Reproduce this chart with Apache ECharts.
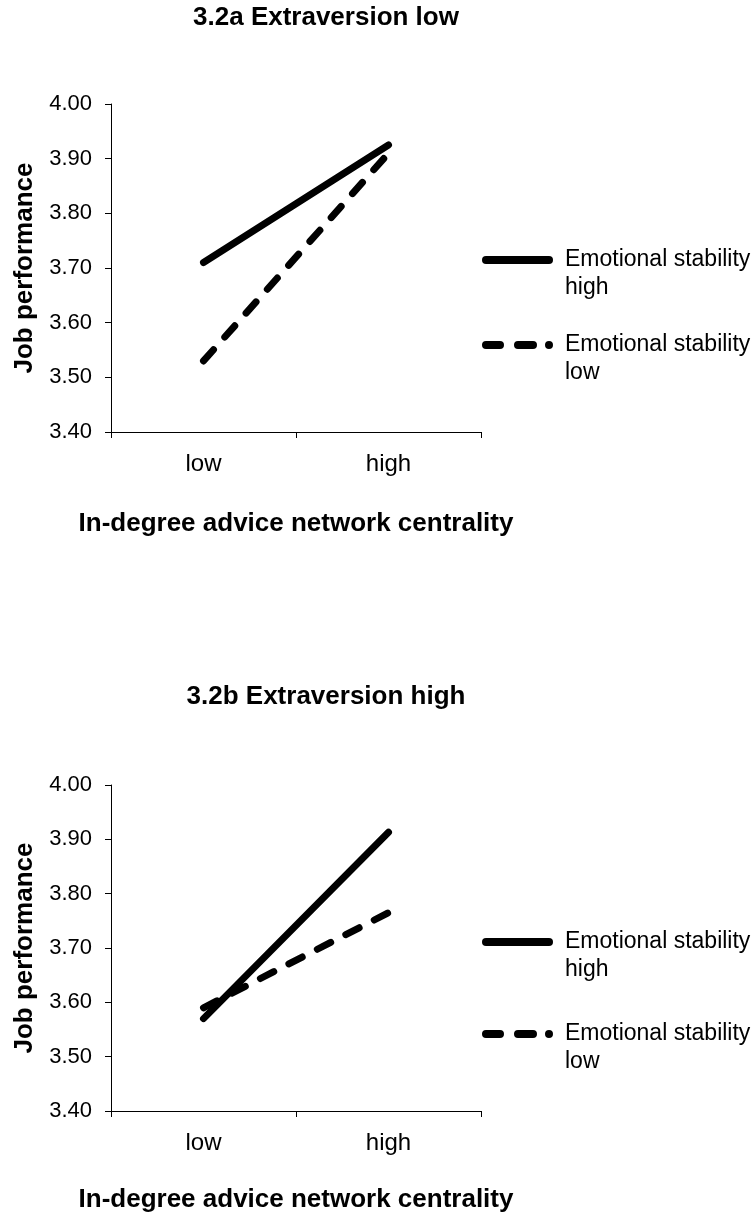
<!DOCTYPE html>
<html>
<head>
<meta charset="utf-8">
<script src="https://cdn.jsdelivr.net/npm/echarts@6/dist/echarts.min.js"></script>
<style>
  html, body { margin: 0; padding: 0; background: #fff; }
  #main { width: 756px; height: 1214px; }
</style>
</head>
<body>
<div id="main"></div>
<script>
var categories = ['low', 'high'];
var seriesNames = ['Emotional stability\nhigh', 'Emotional stability\nlow'];
var titles = ['3.2a Extraversion low', '3.2b Extraversion high'];
var xTitle = 'In-degree advice network centrality';
var yTitle = 'Job performance';

// 3.2a Extraversion low
var esHighA = [3.71, 3.925];
var esLowA = [3.53, 3.91];
// 3.2b Extraversion high
var esHighB = [3.57, 3.913];
var esLowB = [3.59, 3.765];

var FONT = 'Arial, "Liberation Sans", sans-serif';
var solidIcon = 'path://M4,0H67A4,4,0,0,1,67,8H4A4,4,0,0,1,4,0Z';
var dashIcon = 'path://M4,0H18A4,4,0,0,1,18,8H4A4,4,0,0,1,4,0Z' +
  'M36,0H51A4,4,0,0,1,51,8H36A4,4,0,0,1,36,0Z' +
  'M67,0A4,4,0,0,1,67,8A4,4,0,0,1,67,0Z';

var myChart = echarts.init(document.getElementById('main'));

function xAxisOf(idx, gap) {
  return {
    type: 'category',
    gridIndex: idx,
    data: categories,
    boundaryGap: true,
    name: xTitle,
    nameLocation: 'middle',
    nameGap: gap,
    nameTextStyle: { fontFamily: FONT, fontSize: 26, fontWeight: 'bold', color: '#000' },
    axisLine: { show: true, lineStyle: { color: '#000', width: 1 } },
    axisTick: { show: true, alignWithLabel: false, length: 6, lineStyle: { color: '#000' } },
    axisLabel: { margin: 20, fontFamily: FONT, fontSize: 24, color: '#000' },
    splitLine: { show: false }
  };
}

function yAxisOf(idx) {
  return {
    type: 'value',
    gridIndex: idx,
    min: 3.4,
    max: 4.0,
    interval: 0.1,
    name: yTitle,
    nameLocation: 'middle',
    nameRotate: 90,
    nameGap: 73,
    nameTextStyle: { fontFamily: FONT, fontSize: 26, fontWeight: 'bold', color: '#000' },
    axisLine: { show: true, lineStyle: { color: '#000', width: 1 } },
    axisTick: { show: true, length: 6, lineStyle: { color: '#000' } },
    axisLabel: {
      margin: 19, fontFamily: FONT, fontSize: 22, color: '#000',
      formatter: function (v) { return v.toFixed(2); }
    },
    splitLine: { show: false }
  };
}

function lineSeries(name, data, idx, dashed) {
  return {
    name: name,
    type: 'line',
    xAxisIndex: idx,
    yAxisIndex: idx,
    data: data,
    symbol: 'none',
    color: '#000',
    lineStyle: {
      color: '#000',
      width: 7,
      cap: 'round',
      join: 'round',
      type: dashed ? [15, 17] : 'solid'
    },
    emphasis: { disabled: true }
  };
}

// leading empty line puts the icon level with the first text line
function legendOf(name, icon, top) {
  return {
    data: [{ name: name, icon: icon }],
    orient: 'vertical',
    left: 482,
    top: top,
    padding: 0,
    itemWidth: 71,
    itemHeight: 8,
    symbolKeepAspect: false,
    selectedMode: false,
    formatter: function (n) { return '\n' + n; },
    textStyle: {
      fontFamily: FONT, fontSize: 23, color: '#000',
      lineHeight: 28, padding: [0, 0, 0, 7]
    }
  };
}

option = {
  animation: false,
  backgroundColor: '#fff',
  title: [
    { text: titles[0], left: 326, top: 5, textAlign: 'center', padding: 0,
      textStyle: { fontFamily: FONT, fontSize: 26, fontWeight: 'bold', color: '#000' } },
    { text: titles[1], left: 326, top: 684, textAlign: 'center', padding: 0,
      textStyle: { fontFamily: FONT, fontSize: 26, fontWeight: 'bold', color: '#000' } }
  ],
  grid: [
    { left: 111, top: 104, width: 370, height: 328 },
    { left: 111, top: 785, width: 370, height: 330 }
  ],
  legend: [
    legendOf(seriesNames[0], solidIcon, 260 - 42),
    legendOf(seriesNames[1], dashIcon, 345 - 42),
    legendOf(seriesNames[0], solidIcon, 942 - 42),
    legendOf(seriesNames[1], dashIcon, 1034 - 42)
  ],
  xAxis: [xAxisOf(0, 79), xAxisOf(1, 76)],
  yAxis: [yAxisOf(0), yAxisOf(1)],
  series: [
    lineSeries(seriesNames[0], esHighA, 0, false),
    lineSeries(seriesNames[1], esLowA, 0, true),
    lineSeries(seriesNames[0], esHighB, 1, false),
    lineSeries(seriesNames[1], esLowB, 1, true)
  ]
};
myChart.setOption(option);
</script>
</body>
</html>
